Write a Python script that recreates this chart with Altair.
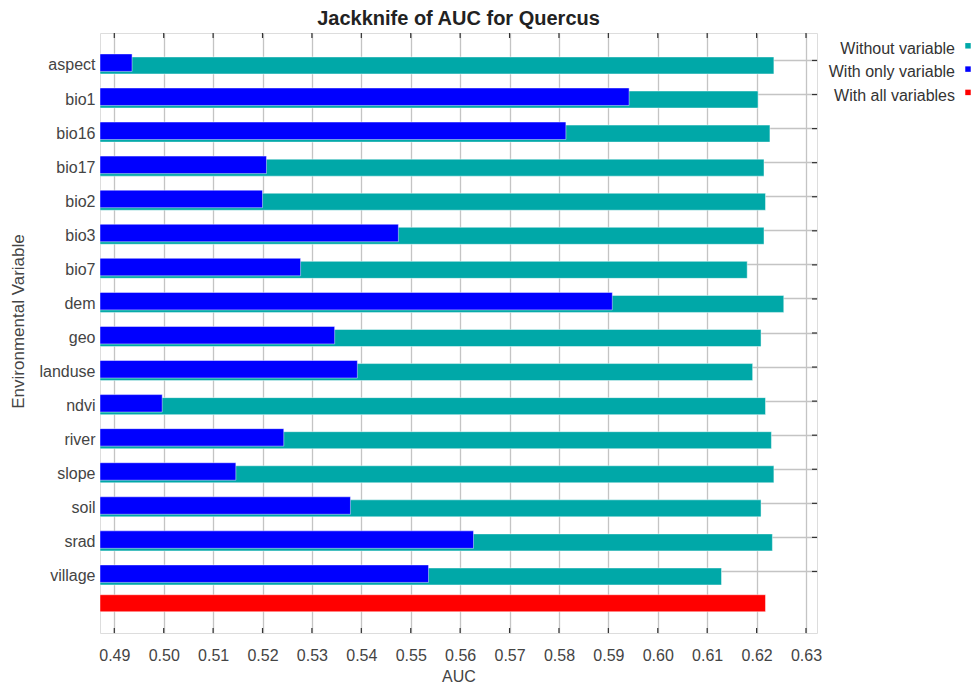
import altair as alt
import pandas as pd

variables = ["aspect", "bio1", "bio16", "bio17", "bio2", "bio3", "bio7", "dem",
             "geo", "landuse", "ndvi", "river", "slope", "soil", "srad", "village"]
without_var = [0.6235, 0.6203, 0.6227, 0.6215, 0.6218, 0.6215, 0.6181, 0.6255,
               0.6209, 0.6192, 0.6218, 0.6230, 0.6235, 0.6209, 0.6232, 0.6129]
with_only = [0.4936, 0.5942, 0.5814, 0.5208, 0.5200, 0.5475, 0.5277, 0.5908,
             0.5346, 0.5392, 0.4997, 0.5243, 0.5146, 0.5378, 0.5627, 0.5536]
all_label = " "
with_all = [0.6218]
x_ticks = [0.49, 0.50, 0.51, 0.52, 0.53, 0.54, 0.55, 0.56, 0.57, 0.58, 0.59,
           0.60, 0.61, 0.62, 0.63]
legend_labels = ["Without variable", "With only variable", "With all variables"]
legend_colors = ["#00A8A8", "#0000FF", "#FF0000"]

FONT = "Liberation Sans"
W, H = 717, 600
y_domain = variables + [all_label]
x_domain = [0.487106, 0.632226]

df_without = pd.DataFrame({"var": variables, "auc": without_var})
df_only = pd.DataFrame({"var": variables, "auc": with_only})
df_all = pd.DataFrame({"var": [all_label], "auc": with_all})
df_ticks = pd.DataFrame({"t": x_ticks})
df_cats = pd.DataFrame({"var": variables})

xscale = alt.Scale(domain=x_domain, zero=False, nice=False)
yscale = alt.Scale(domain=y_domain, paddingInner=0, paddingOuter=0.306)

x_axis = alt.Axis(values=x_ticks, format=".2f", title="AUC", grid=True,
                  gridColor="#c4c4c4", gridWidth=1.3, ticks=False, domain=False,
                  labelFont=FONT, labelFontSize=16, labelColor="#444",
                  labelPadding=14, titleFont=FONT, titleFontSize=16,
                  titleFontWeight="normal", titleColor="#444",
                  titleY=43, titleBaseline="middle")
y_axis = alt.Axis(values=variables, title="Environmental Variable", grid=True,
                  gridColor="#c4c4c4", gridWidth=1.3, ticks=False, domain=False,
                  labelFont=FONT, labelFontSize=16, labelColor="#444",
                  labelPadding=5, labelOffset=5, labelBaseline="middle",
                  titleFont=FONT, titleFontSize=17, titleFontWeight="normal",
                  titleColor="#444", titleX=-82, titleY=288,
                  titleBaseline="middle", titleAlign="center", titleAngle=270)

bar_stroke = dict(stroke="white", strokeWidth=1, strokeOpacity=0.45)
base_x = alt.datum(x_domain[0])

teal = alt.Chart(df_without).mark_bar(
    color=legend_colors[0], height=17, yOffset=5, **bar_stroke
).encode(
    x=alt.X("auc:Q", scale=xscale, axis=x_axis),
    x2=base_x,
    y=alt.Y("var:N", scale=yscale, axis=y_axis, sort=y_domain),
)

blue = alt.Chart(df_only).mark_bar(
    color=legend_colors[1], height=17.5, yOffset=2.2, **bar_stroke
).encode(
    x=alt.X("auc:Q", scale=xscale),
    x2=base_x,
    y=alt.Y("var:N", scale=yscale, sort=y_domain),
)

red = alt.Chart(df_all).mark_bar(
    color=legend_colors[2], height=17, yOffset=-2.3, **bar_stroke
).encode(
    x=alt.X("auc:Q", scale=xscale),
    x2=base_x,
    y=alt.Y("var:N", scale=yscale, sort=y_domain),
)

tick_style = dict(color="#333", strokeWidth=1.2)
ticks_bottom = alt.Chart(df_ticks).mark_rule(**tick_style).encode(
    x=alt.X("t:Q", scale=xscale), y=alt.value(H - 5), y2=alt.value(H))
ticks_top = alt.Chart(df_ticks).mark_rule(**tick_style).encode(
    x=alt.X("t:Q", scale=xscale), y=alt.value(0.01), y2=alt.value(5))
ticks_right = alt.Chart(df_cats).mark_rule(**tick_style).encode(
    y=alt.Y("var:N", scale=yscale, sort=y_domain), x=alt.value(W - 5), x2=alt.value(W))

legend_layers = []
for i, (lab, col) in enumerate(zip(legend_labels, legend_colors)):
    one = pd.DataFrame({"k": [0]})
    legend_layers.append(
        alt.Chart(one).mark_text(align="right", baseline="middle", font=FONT,
                                 fontSize=16, color="#333").encode(
            x=alt.value(855), y=alt.value(16 + 23.3 * i), text=alt.value(lab)))
    legend_layers.append(
        alt.Chart(one).mark_square(size=30, color=col, opacity=1).encode(
            x=alt.value(868), y=alt.value(12.8 + 23.3 * i)))

chart = alt.layer(teal, blue, red, ticks_bottom, ticks_top, ticks_right,
                  *legend_layers).properties(
    width=W, height=H,
    title=alt.TitleParams("Jackknife of AUC for Quercus", font=FONT, fontSize=20,
                          fontWeight="bold", color="#222", anchor="middle",
                          offset=3),
    autosize=alt.AutoSizeParams(type="none"),
    padding={"left": 92, "top": 25, "right": 154, "bottom": 51},
).configure_view(stroke="#333", strokeWidth=1.3).configure(background="white")

chart.save("out.html", embed_options={"renderer": "svg", "actions": False})
